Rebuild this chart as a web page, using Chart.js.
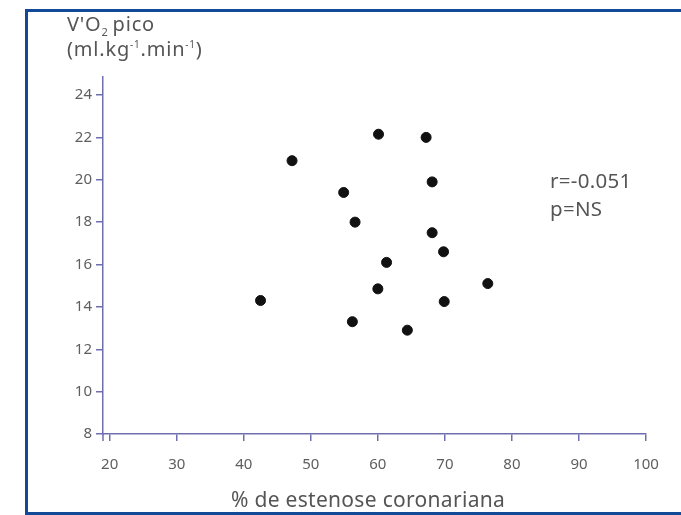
<!DOCTYPE html>
<html>
<head>
<meta charset="utf-8">
<script src="https://cdn.jsdelivr.net/npm/chart.js@4/dist/chart.umd.min.js"></script>
<style>
  html, body { margin: 0; padding: 0; background: #ffffff; }
  #wrap { width: 681px; height: 515px; }
</style>
</head>
<body>
<div id="wrap"><canvas id="c" width="681" height="515"></canvas></div>
<script>
// ---- data ----
const stenosisPct = [42.5, 47.2, 54.9, 56.6, 56.2, 60.1, 60.0, 61.3, 64.4, 67.2, 68.1, 68.1, 69.8, 69.9, 76.4];
const vo2Peak     = [14.3, 20.9, 19.4, 18.0, 13.3, 22.15, 14.85, 16.1, 12.9, 22.0, 19.9, 17.5, 16.6, 14.25, 15.1];
const xTickValues = [20, 30, 40, 50, 60, 70, 80, 90, 100];
const yTickValues = [8, 10, 12, 14, 16, 18, 20, 22, 24];
const xTitle = "% de estenose coronariana";
const statR = "r=-0.051";
const statP = "p=NS";

const FONT = "'Noto Sans', 'Open Sans', sans-serif";
const AXIS = '#6f6fb0';
const TXT = '#5e5e5e';

const points = stenosisPct.map((x, i) => ({ x: x, y: vo2Peak[i] }));

function setSpacing(ctx, px) {
  if ('letterSpacing' in ctx) ctx.letterSpacing = px + 'px';
}

const decor = {
  id: 'decor',
  beforeDraw(chart) {
    const ctx = chart.ctx;
    ctx.save();
    ctx.fillStyle = '#ffffff';
    ctx.fillRect(0, 0, chart.width, chart.height);
    ctx.restore();
  },
  afterDraw(chart) {
    const ctx = chart.ctx;
    const ca = chart.chartArea;
    ctx.save();
    // y axis title with sub/superscripts
    ctx.fillStyle = '#555555';
    ctx.textBaseline = 'alphabetic';
    ctx.textAlign = 'left';
    setSpacing(ctx, 0.8);
    let x = 67;
    ctx.font = '20px ' + FONT;
    ctx.fillText("V'O", x, 31); x += ctx.measureText("V'O").width;
    ctx.font = '11px ' + FONT;
    ctx.fillText("2", x, 36); x += ctx.measureText("2").width + 4;
    ctx.font = '20px ' + FONT;
    ctx.fillText("pico", x, 31);
    x = 67;
    const parts = [["(ml.kg", 0], ["-1", 1], [".min", 0], ["-1", 1], [")", 0]];
    parts.forEach(([t, sup]) => {
      if (sup) { ctx.font = '10px ' + FONT; ctx.fillText(t, x, 48); }
      else { ctx.font = '20px ' + FONT; ctx.fillText(t, x, 56); }
      x += ctx.measureText(t).width;
    });
    // stats
    setSpacing(ctx, 0.3);
    ctx.font = '20.5px ' + FONT;
    ctx.fillText(statR, 550, 188);
    ctx.fillText(statP, 550, 216);
    // x axis title
    setSpacing(ctx, 0.3);
    ctx.textAlign = 'center';
    ctx.font = '21px ' + FONT;
    ctx.fillText(xTitle, 368, 507);
    setSpacing(ctx, 0);
    // y axis extension below x axis
    ctx.strokeStyle = AXIS;
    ctx.lineWidth = 1.5;
    ctx.beginPath();
    ctx.moveTo(ca.left, ca.bottom);
    ctx.lineTo(ca.left, ca.bottom + 7);
    ctx.stroke();
    // frame
    ctx.strokeStyle = '#124a98';
    ctx.lineWidth = 3;
    ctx.beginPath();
    ctx.moveTo(700, 10.5);
    ctx.lineTo(26.5, 10.5);
    ctx.lineTo(26.5, 513.5);
    ctx.lineTo(700, 513.5);
    ctx.stroke();
    ctx.restore();
  }
};

new Chart(document.getElementById('c'), {
  type: 'scatter',
  data: {
    datasets: [{
      data: points,
      backgroundColor: '#111111',
      borderColor: '#111111',
      pointRadius: 5,
      pointHoverRadius: 5
    }]
  },
  options: {
    responsive: false,
    animation: false,
    devicePixelRatio: 1,
    layout: { padding: { top: 77, right: 35, left: 0, bottom: 0 } },
    plugins: { legend: { display: false }, tooltip: { enabled: false } },
    scales: {
      x: {
        type: 'linear',
        min: 19,
        max: 100,
        afterBuildTicks: s => { s.ticks = xTickValues.map(v => ({ value: v })); },
        afterFit: s => { s.height = 81; },
        ticks: { font: { size: 15, family: FONT }, color: TXT, padding: 15, maxRotation: 0, autoSkip: false },
        grid: { drawOnChartArea: false, drawTicks: true, tickLength: 7, color: AXIS, lineWidth: 1.5 },
        border: { color: AXIS, width: 1.5 }
      },
      y: {
        type: 'linear',
        min: 8,
        max: 24.85,
        afterBuildTicks: s => { s.ticks = yTickValues.map(v => ({ value: v })); },
        afterFit: s => { s.width = 103; },
        ticks: { font: { size: 15, family: FONT }, color: TXT, padding: 4, autoSkip: false },
        grid: { drawOnChartArea: false, drawTicks: true, tickLength: 7, color: AXIS, lineWidth: 1.5 },
        border: { color: AXIS, width: 1.5 }
      }
    }
  },
  plugins: [decor]
});
</script>
</body>
</html>
